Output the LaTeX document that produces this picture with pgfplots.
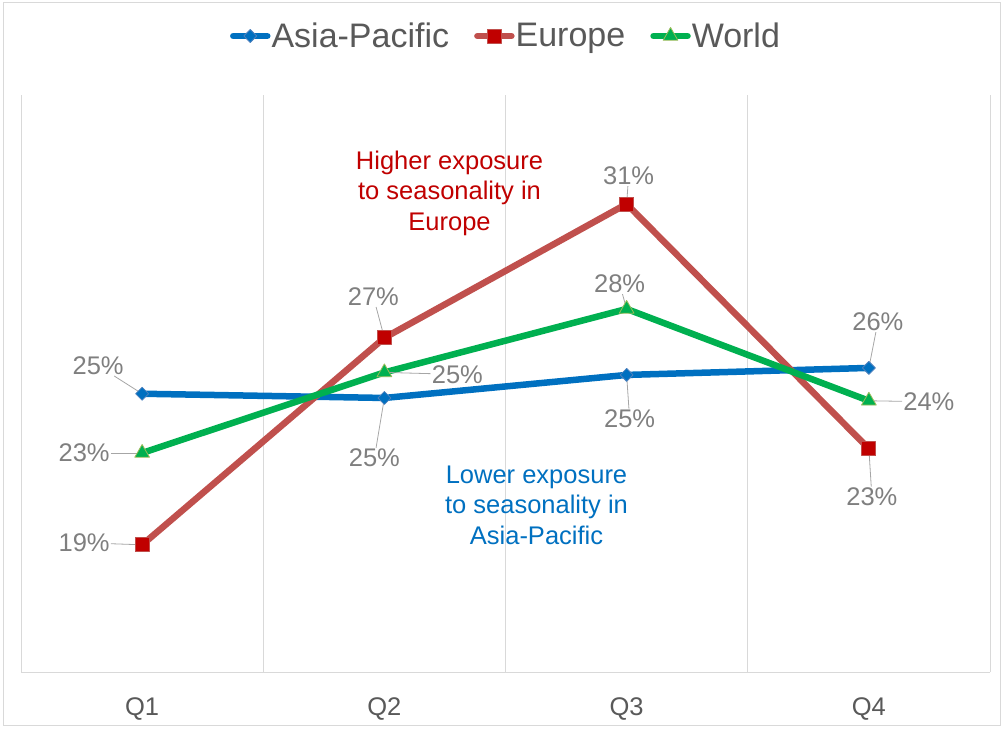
\documentclass[border=0pt]{standalone}
\usepackage{pgfplots}
\pgfplotsset{compat=1.18}
\usepackage{fontspec}
\setmainfont{Liberation Sans}

\definecolor{apblue}{HTML}{0070C0}
\definecolor{apedge}{HTML}{4F81BD}
\definecolor{eured}{HTML}{C0504D}
\definecolor{eumark}{HTML}{C00000}
\definecolor{wgreen}{HTML}{00B050}
\definecolor{wedge}{HTML}{9BBB59}
\definecolor{gridgray}{HTML}{D9D9D9}
\definecolor{lblgray}{HTML}{7F7F7F}
\definecolor{txtgray}{HTML}{595959}
\definecolor{leadgray}{HTML}{A6A6A6}

% data label with leader line: x, y, dx, dy, text
\newcommand{\dlabel}[5]{%
  \node[font=\fontsize{25.5}{30}\selectfont, text=lblgray, inner sep=1pt,
        xshift=#3pt, yshift=#4pt] (dl) at (axis cs:#1,#2) {#5\%};
  \draw[leadgray, line width=0.8pt, shorten >=5pt] (dl) -- (axis cs:#1,#2);
}

\begin{document}
\begin{tikzpicture}
\useasboundingbox (0,0) rectangle (1003pt,728pt);
\draw[gridgray, line width=1pt] (3pt,3pt) rectangle (1000pt,725pt);
\begin{axis}[
    at={(21pt,56pt)},
    anchor=south west,
    scale only axis,
    width=969pt,
    height=577pt,
    xmin=-0.5, xmax=3.5,
    ymin=14.81, ymax=35.36,
    axis x line*=bottom,
    axis y line=none,
    axis line style={-, gridgray, line width=1pt},
    xtick={0,1,2,3},
    xticklabels={Q1,Q2,Q3,Q4},
    major tick length=0pt,
    minor xtick={-0.5,0.5,1.5,2.5,3.5},
    minor tick length=0pt,
    xminorgrids=true,
    minor grid style={gridgray, line width=1pt},
    ytick=\empty,
    xticklabel style={font=\fontsize{25.5}{30}\selectfont, text=txtgray,
                      inner sep=0pt, yshift=-25pt},
    clip=false,
    legend columns=3,
    legend style={at={(0.5,1)}, anchor=center, yshift=59pt, draw=none,
                  fill=none, font=\fontsize{34}{40}\selectfont, text=txtgray,
                  inner sep=0pt, nodes={inner sep=1pt},
                  /tikz/every even column/.append style={column sep=24pt}},
    legend image code/.code={%
        \draw[mark repeat=2, mark phase=2, #1]
            plot coordinates {(0pt,0pt) (17pt,0pt) (34pt,0pt)};},
]
\addplot[apblue, line width=6.5pt, line join=round, line cap=round,
    mark=diamond*, mark size=6.5pt,
    mark options={solid, xscale=1.33, fill=apblue, draw=apedge, line width=0.8pt}]
    coordinates {(0,24.72) (1,24.57) (2,25.39) (3,25.64)};
\addplot[eured, line width=6.5pt, line join=round, line cap=round,
    mark=square*, mark size=7pt,
    mark options={solid, fill=eumark, draw=eured, line width=0.8pt}]
    coordinates {(0,19.34) (1,26.71) (2,31.48) (3,22.76)};
\addplot[wgreen, line width=6.5pt, line join=round, line cap=round,
    mark=triangle*, mark size=8.5pt,
    mark options={solid, fill=wgreen, draw=wedge, line width=0.8pt}]
    coordinates {(0,22.61) (1,25.48) (2,27.74) (3,24.47)};
\legend{Asia-Pacific,Europe,World}

\dlabel{0}{24.72}{-44}{28}{25}
\dlabel{1}{24.57}{-10}{-60}{25}
\dlabel{2}{25.39}{3}{-44}{25}
\dlabel{3}{25.64}{9}{46}{26}
\dlabel{0}{19.34}{-58}{2}{19}
\dlabel{1}{26.71}{-11}{41}{27}
\dlabel{2}{31.48}{2}{28}{31}
\dlabel{3}{22.76}{3}{-48}{23}
\dlabel{0}{22.61}{-58}{0}{23}
\dlabel{1}{25.48}{73}{-2}{25}
\dlabel{2}{27.74}{-7}{25}{28}
\dlabel{3}{24.47}{60}{-1}{24}

\node[align=center, font=\fontsize{25.5}{30.5}\selectfont, text=eumark]
    at (axis cs:1.269,31.87) {Higher exposure\\to seasonality in\\Europe};
\node[align=center, font=\fontsize{25.5}{30.5}\selectfont, text=apblue]
    at (axis cs:1.628,20.76) {Lower exposure\\to seasonality in\\Asia-Pacific};
\end{axis}
\end{tikzpicture}
\end{document}
